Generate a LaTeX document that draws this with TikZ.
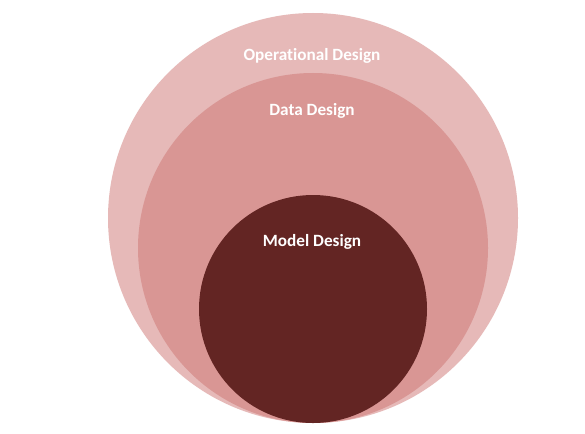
\documentclass[tikz,border=0pt]{standalone}
\usepackage{fontspec}
\setmainfont[Ligatures=NoCommon]{Carlito}
\definecolor{opfill}{HTML}{E6B9B8}
\definecolor{datafill}{HTML}{D99694}
\definecolor{modelfill}{HTML}{632523}
\begin{document}
\begin{tikzpicture}[x=1pt,y=-1pt,
  ring/.style={circle,draw=none,inner sep=0pt},
  label/.style={anchor=base,text=white,font=\fontsize{17.2}{19}\selectfont\bfseries,inner sep=0pt}]
  \useasboundingbox[fill=white] (0,0) rectangle (585,433);
  % nested circles, all touching at the bottom
  \node[ring,fill=opfill,minimum size=410pt] (op) at (313,218) {};
  \node[ring,fill=datafill,minimum size=350pt] (data) at (313,248) {};
  \node[ring,fill=modelfill,minimum size=228pt] (model) at (313,309) {};
  % captions
  \node[label] (oplabel) at (312,61) {Operational Design};
  \node[label] (datalabel) at (312,115) {Data Design};
  \node[label] (modellabel) at (312,246.5) {Model Design};
\end{tikzpicture}
\end{document}
